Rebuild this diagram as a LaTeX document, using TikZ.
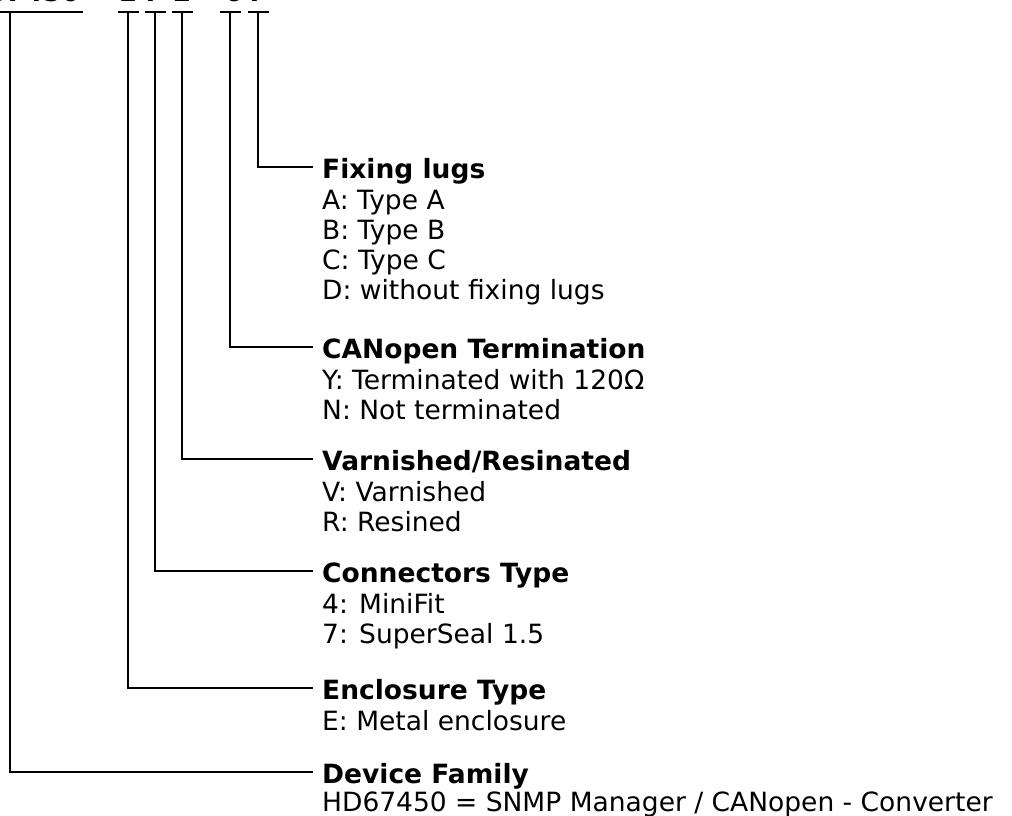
\documentclass[tikz,border=0pt]{standalone}
\usepackage{fontspec}
\setmainfont{DejaVu Sans}
\tikzset{
  lead/.style={black,line width=2.4pt},
  head/.style={anchor=west,inner xsep=9pt,inner ysep=0pt,text height=22pt,text depth=0pt,font=\bfseries},
  item/.style={anchor=base west,inner sep=0pt},
  code/.style={anchor=base,inner sep=0pt,font=\bfseries}
}
\begin{document}
\begin{tikzpicture}[x=1pt,y=-1pt]
  \fontsize{26.5}{30}\selectfont
  \useasboundingbox (0,0) rectangle (1012,816);
  % order code, cut off at the top
  \begin{scope}
    \clip (0,0) rectangle (1012,816);
    \node [code,anchor=base east] (c0) at (80,1.5) {HD67450};
    \node [code] (c1) at (128,1.5) {E};
    \node [code] (c2) at (153,1.5) {7};
    \node [code] (c3) at (182,1.5) {2};
    \node [code] (c4) at (234,1.5) {0};
    \node [code] (c5) at (257,1.5) {7};
  \end{scope}
  \coordinate (t0) at (10,12);
  \coordinate (t1) at (128,12);
  \coordinate (t2) at (155,12);
  \coordinate (t3) at (182,12);
  \coordinate (t4) at (230,12);
  \coordinate (t5) at (258,12);
  \draw [lead] (0,12) -- (83,12);
  \foreach \t in {t1,t2,t3,t4,t5}
    \draw [lead] ([xshift=-10.5pt]\t) -- ([xshift=10.5pt]\t);

  % fields
  \node [head] (fix) at (313,167) {Fixing lugs};
  \node [item] (fixa) at (322,209) {A: Type A};
  \node [item] (fixb) at (322,239) {B: Type B};
  \node [item] (fixc) at (322,269) {C: Type C};
  \node [item] (fixd) at (322,299) {D: without fixing lugs};

  \node [head] (term) at (313,347) {CANopen Termination};
  \node [item] (termy) at (322,389) {Y: Terminated with 120Ω};
  \node [item] (termn) at (322,419) {N: Not terminated};

  \node [head] (varn) at (313,459) {Varnished/Resinated};
  \node [item] (varnv) at (322,501) {V: Varnished};
  \node [item] (varnr) at (322,531) {R: Resined};

  \node [head] (conn) at (313,571) {Connectors Type};
  \node [item] (conn4) at (322,613) {4: MiniFit};
  \node [item] (conn7) at (322,643) {7: SuperSeal 1.5};

  \node [head] (encl) at (313,688) {Enclosure Type};
  \node [item] (encle) at (322,730) {E: Metal enclosure};

  \node [head] (fam) at (313,772) {Device Family};
  \node [item] (famhd) at (322,811) {HD67450 = SNMP Manager / CANopen - Converter};

  % leads
  \draw [lead] (t5) |- (fix.west);
  \draw [lead] (t4) |- (term.west);
  \draw [lead] (t3) |- (varn.west);
  \draw [lead] (t2) |- (conn.west);
  \draw [lead] (t1) |- (encl.west);
  \draw [lead] (t0) |- (fam.west);
\end{tikzpicture}
\end{document}
